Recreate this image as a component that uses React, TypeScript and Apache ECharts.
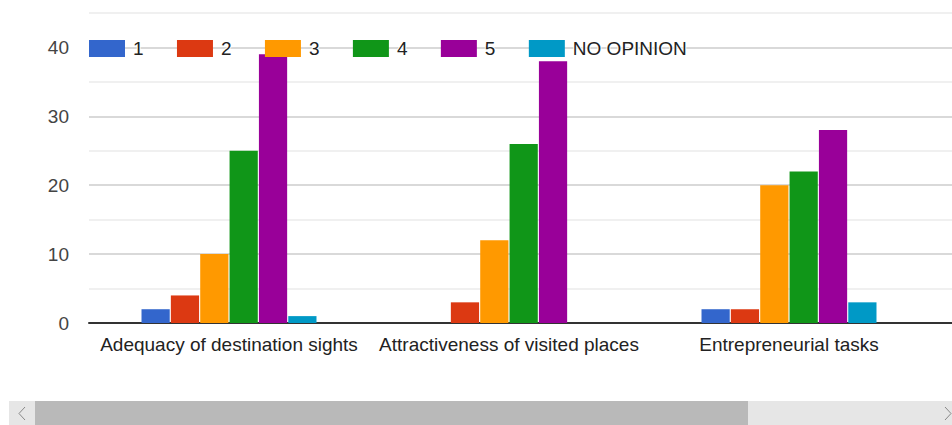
import React, { useEffect, useRef } from "react";
import * as echarts from "echarts";

const categories = [
  "Adequacy of destination sights",
  "Attractiveness of visited places",
  "Entrepreneurial tasks",
];
const seriesNames = ["1", "2", "3", "4", "5", "NO OPINION"];
const values1 = [2, 0, 2];
const values2 = [4, 3, 2];
const values3 = [10, 12, 20];
const values4 = [25, 26, 22];
const values5 = [39, 38, 28];
const valuesNoOpinion = [1, 0, 3];
const colors = ["#3366cc", "#dc3912", "#ff9900", "#109618", "#990099", "#0099c6"];

const FONT = 'Arial, "Liberation Sans", sans-serif';

export default function App() {
  const ref = useRef<HTMLDivElement>(null);
  useEffect(() => {
    if (!ref.current) return;
    const chart = echarts.init(ref.current, null, { renderer: "svg" });
    const allValues = [values1, values2, values3, values4, values5, valuesNoOpinion];
    chart.setOption({
      animation: false,
      textStyle: { fontFamily: FONT },
      color: colors,
      legend: {
        left: 89,
        top: 38,
        padding: 0,
        icon: "rect",
        itemWidth: 36,
        itemHeight: 17,
        itemGap: 32.4,
        textStyle: {
          fontSize: 19,
          color: "#222",
          fontFamily: FONT,
          padding: [0, 0, 0, 3],
          textBorderColor: "#fff",
          textBorderWidth: 2,
        },
        data: seriesNames,
      },
      grid: { left: 89, right: 11, top: 13, bottom: 102, containLabel: false },
      xAxis: {
        type: "category",
        data: categories,
        max: 3,
        axisLine: { show: true, lineStyle: { color: "#333", width: 2 } },
        axisTick: { show: false },
        axisLabel: { fontSize: 19, color: "#222", margin: 12, fontFamily: FONT, interval: 0 },
        splitLine: { show: false },
      },
      yAxis: {
        type: "value",
        min: 0,
        max: 45,
        interval: 5,
        axisLine: { show: false },
        axisTick: { show: false },
        axisLabel: {
          fontSize: 19,
          color: "#444",
          margin: 20,
          fontFamily: FONT,
          formatter: (v: number) => (v % 10 === 0 ? String(v) : ""),
        },
        splitLine: { show: true, lineStyle: { color: ["#cccccc", "#ebebeb"], width: 1.5 } },
      },
      series: seriesNames.map((name, i) => ({
        name,
        type: "bar",
        data: allValues[i],
        barCategoryGap: "37.5%",
        barGap: "4%",
        itemStyle: { color: colors[i] },
      })),
      graphic: [
        { type: "rect", shape: { x: 9, y: 401, width: 26, height: 24 }, style: { fill: "#e6e6e6" }, silent: true },
        { type: "rect", shape: { x: 35, y: 401, width: 713, height: 24 }, style: { fill: "#b9b9b9" }, silent: true },
        { type: "rect", shape: { x: 748, y: 401, width: 204, height: 24 }, style: { fill: "#e6e6e6" }, silent: true },
        {
          type: "polyline",
          shape: { points: [[25, 407], [19, 413.5], [25, 420]] },
          style: { stroke: "#888", lineWidth: 1, fill: null },
          silent: true,
        },
        {
          type: "polyline",
          shape: { points: [[945, 407], [951, 413.5], [945, 420]] },
          style: { stroke: "#888", lineWidth: 1, fill: null },
          silent: true,
        },
      ],
    });
    return () => chart.dispose();
  }, []);
  return (
    <div
      style={{
        position: "fixed",
        left: 0,
        top: 0,
        width: 952,
        height: 425,
        overflow: "hidden",
        background: "#fff",
      }}
    >
      <div ref={ref} style={{ width: 1220, height: 425 }} />
    </div>
  );
}
